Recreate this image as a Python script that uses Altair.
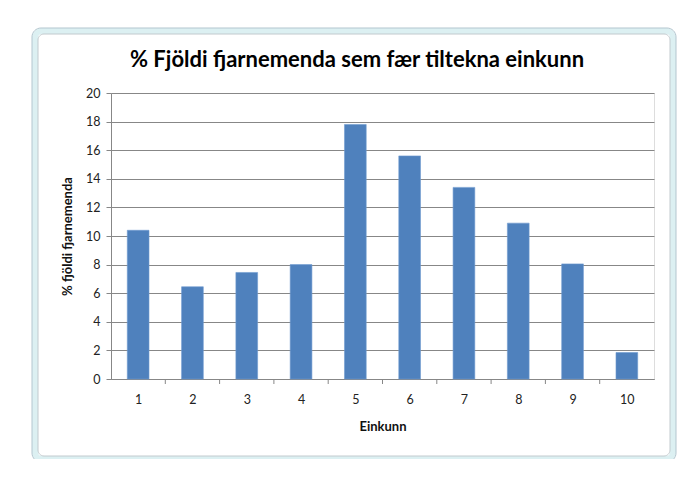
import altair as alt
import pandas as pd

# Data
grades = [1, 2, 3, 4, 5, 6, 7, 8, 9, 10]
values = [10.4, 6.45, 7.45, 8.0, 17.8, 15.6, 13.4, 10.9, 8.05, 1.85]
y_ticks = [0, 2, 4, 6, 8, 10, 12, 14, 16, 18, 20]

title_text = "% Fjöldi fjarnemenda sem fær tiltekna einkunn"
x_title = "Einkunn"
y_title = "% fjöldi fjarnemenda"

df = pd.DataFrame({"Einkunn": grades, "Hlutfall": values})
bounds = pd.DataFrame({"b": [g + 0.5 for g in grades[:-1]]})
dummy = alt.Data(values=[{"k": 1}])

FONT = "Lato"
GREY = "#878787"
W, H = 543, 286

xs = alt.Scale(domain=[0.5, 10.5], nice=False, zero=False)
ys = alt.Scale(domain=[0, 20], nice=False, zero=True)

bars = alt.Chart(df).transform_calculate(
    lo="datum.Einkunn - 0.2", hi="datum.Einkunn + 0.2", base="0"
).mark_bar(color="#4f81bd", stroke="#6f9bd0", strokeWidth=0.6).encode(
    x=alt.X("lo:Q", scale=xs, axis=alt.Axis(
        values=grades, ticks=False, grid=False, title=x_title,
        labelFont=FONT, labelFontSize=12.5, labelColor="#222222",
        labelPadding=14, domainColor=GREY, format="d",
        titleFont=FONT, titleFontSize=13, titleFontWeight="bold",
        titleColor="#111111", titlePadding=15)),
    x2="hi:Q",
    y=alt.Y("Hlutfall:Q", scale=ys, axis=alt.Axis(
        values=y_ticks, grid=True, gridColor=GREY, gridOpacity=1,
        tickColor=GREY, tickSize=5, domainColor=GREY,
        labelFont=FONT, labelFontSize=12.5, labelColor="#222222",
        labelPadding=6, title=y_title,
        titleFont=FONT, titleFontSize=13, titleFontWeight="bold",
        titleColor="#111111", titlePadding=11)),
    y2="base:Q",
    tooltip=["Einkunn:Q", "Hlutfall:Q"],
)

bticks = alt.Chart(bounds).mark_rule(color=GREY, strokeWidth=1).encode(
    x=alt.X("b:Q", scale=xs),
    y=alt.value(H),
    y2=alt.value(H + 5),
)

# Chart-area frame (Excel style border)
frame_band = alt.Chart(dummy).mark_rect(
    fillOpacity=0, stroke="#dcf0f2", strokeWidth=6, cornerRadius=7
).encode(x=alt.value(-76), x2=alt.value(562), y=alt.value(-62), y2=alt.value(366))
frame_outer = alt.Chart(dummy).mark_rect(
    fillOpacity=0, stroke="#b3c6cf", strokeWidth=1, cornerRadius=9
).encode(x=alt.value(-79), x2=alt.value(565), y=alt.value(-65), y2=alt.value(369))
frame_inner = alt.Chart(dummy).mark_rect(
    fillOpacity=0, stroke="#c2cace", strokeWidth=1, cornerRadius=6
).encode(x=alt.value(-73), x2=alt.value(559), y=alt.value(-59), y2=alt.value(363))

chart = alt.layer(frame_band, frame_outer, frame_inner, bars, bticks).properties(
    width=W, height=H,
    autosize=alt.AutoSizeParams(type="none"),
    padding={"left": 103, "top": 85, "right": 28, "bottom": 80},
    title=alt.Title(title_text, anchor="start", frame="group", dx=19, offset=-44,
                    font=FONT, fontSize=22, fontWeight="bold", color="#000000"),
).configure_view(stroke=GREY, strokeWidth=1).configure(background="white")

chart.save("out.html", embed_options={"renderer": "svg", "actions": False})
